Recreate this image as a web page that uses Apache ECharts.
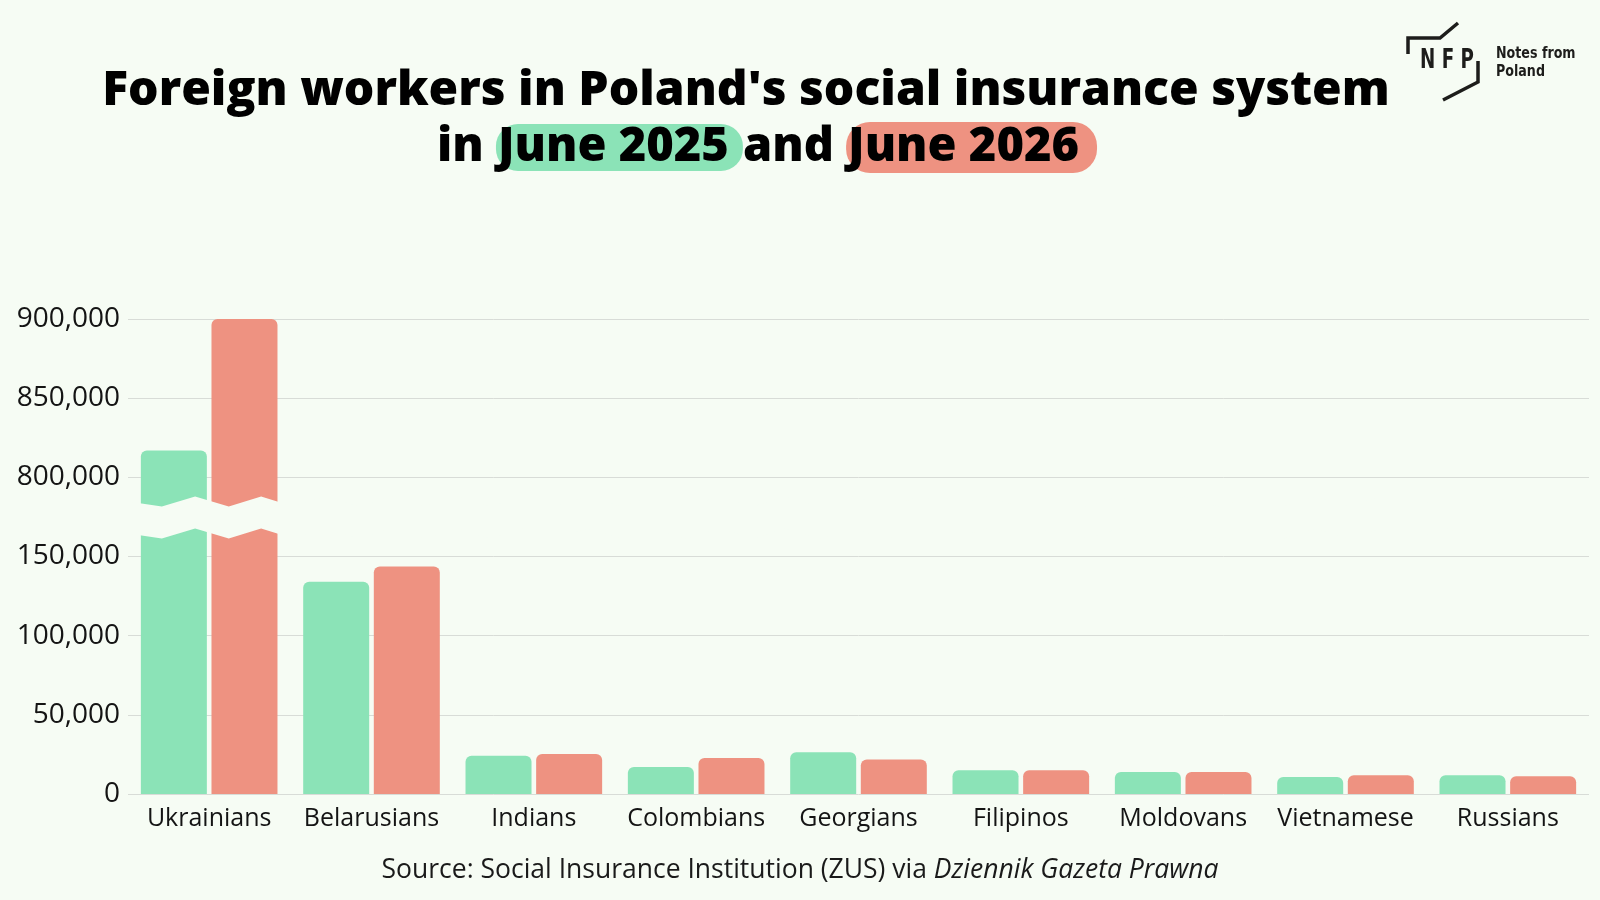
<!DOCTYPE html>
<html>
<head>
    <meta charset="utf-8">
    <title>Foreign workers in Poland's social insurance system</title>
    <script src="https://cdn.jsdelivr.net/npm/echarts@6.0.0/dist/echarts.min.js"></script>
    <style>
        html, body { margin: 0; padding: 0; background: #f6fcf4; }
        #chart { width: 1600px; height: 900px; }
    </style>
</head>
<body>
<div id="chart"></div>
<script>
    // values
    var categories = ['Ukrainians', 'Belarusians', 'Indians', 'Colombians', 'Georgians',
        'Filipinos', 'Moldovans', 'Vietnamese', 'Russians'];
    var june2025 = [817000, 134000, 24100, 17100, 26400, 15000, 13900, 10800, 11800];
    var june2026 = [900000, 143700, 25300, 22800, 21800, 15000, 13900, 11800, 11200];
    var yTicks = [0, 50000, 100000, 150000, 800000, 850000, 900000];
    var axisBreak = { start: 165000, end: 785000, gap: 20000 };

    var bg = '#f6fcf4';
    var green = '#8be3b7';
    var red = '#ee9281';
    var ink = '#141414';
    var logoFont = '"Liberation Sans Narrow", "DejaVu Sans Condensed", sans-serif';

    var myChart = echarts.init(document.getElementById('chart'));
    var option = {
        backgroundColor: bg,
        animation: false,
        textStyle: { fontFamily: 'Open Sans' },
        title: [{
            text: "Foreign workers in Poland's social insurance system",
            left: 741,
            top: 62,
            textAlign: 'center',
            textStyle: { fontFamily: 'Open Sans', fontWeight: 800, fontSize: 48, color: '#000' }
        }, {
            text: 'in {g|June 2025}and {r|June 2026}',
            left: 762,
            top: 117,
            textAlign: 'center',
            textStyle: {
                fontFamily: 'Open Sans', fontWeight: 800, fontSize: 47, color: '#000',
                rich: {
                    g: {
                        fontFamily: 'Open Sans', fontWeight: 800, fontSize: 47, color: '#000',
                        backgroundColor: green, borderRadius: 22, padding: [0, 14, 0, 2]
                    },
                    r: {
                        fontFamily: 'Open Sans', fontWeight: 800, fontSize: 47, color: '#000',
                        backgroundColor: red, borderRadius: 24, padding: [2, 18, 2, 2]
                    }
                }
            }
        }],
        grid: { left: 128, right: 11, top: 319, bottom: 106, containLabel: false },
        xAxis: {
            type: 'category',
            data: categories,
            axisLine: { show: false },
            axisTick: { show: false },
            axisLabel: { fontFamily: 'Open Sans', fontSize: 25, color: ink, margin: 12, interval: 0 }
        },
        yAxis: {
            type: 'value',
            min: 0,
            max: 900000,
            interval: 50000,
            breaks: [axisBreak],
            breakArea: {
                show: true,
                itemStyle: { color: bg, borderColor: bg, borderWidth: 0, opacity: 1 },
                zigzagAmplitude: 5,
                zigzagMinSpan: 32,
                zigzagMaxSpan: 34,
                expandOnClick: false
            },
            axisLine: { show: false },
            axisTick: { show: false, customValues: yTicks },
            splitLine: { lineStyle: { color: '#d8dcd7', width: 1 }, customValues: yTicks },
            axisLabel: {
                customValues: yTicks,
                fontFamily: 'Open Sans', fontSize: 28, color: ink, margin: 8,
                formatter: function (v) { return v.toLocaleString('en-US'); }
            }
        },
        series: [{
            name: 'June 2025',
            type: 'bar',
            data: june2025,
            barWidth: 66,
            barGap: '7%',
            itemStyle: { color: green, borderRadius: [6, 6, 0, 0] }
        }, {
            name: 'June 2026',
            type: 'bar',
            data: june2026,
            barWidth: 66,
            itemStyle: { color: red, borderRadius: [6, 6, 0, 0] }
        }],
        graphic: [
            // NFP logo
            {
                type: 'polyline',
                shape: { points: [[1408, 54], [1408, 38], [1440, 38], [1458, 23]] },
                style: { stroke: '#1d1d1b', lineWidth: 3.5, fill: null }
            },
            {
                type: 'polyline',
                shape: { points: [[1478, 61], [1478, 82], [1443, 100]] },
                style: { stroke: '#1d1d1b', lineWidth: 3.5, fill: null }
            },
            {
                type: 'text',
                x: 1447, y: 61,
                style: {
                    text: 'N F P', fill: '#1d1d1b', align: 'center', verticalAlign: 'middle',
                    font: 'bold 26px ' + logoFont
                },
                scaleX: 0.78
            },
            {
                type: 'text',
                x: 1496, y: 54,
                scaleX: 0.88,
                style: {
                    text: 'Notes from', fill: '#1d1d1b', verticalAlign: 'middle',
                    font: 'bold 16px ' + logoFont
                }
            },
            {
                type: 'text',
                x: 1496, y: 72,
                scaleX: 0.88,
                style: {
                    text: 'Poland', fill: '#1d1d1b', verticalAlign: 'middle',
                    font: 'bold 16px ' + logoFont
                }
            },
            // source line
            {
                type: 'text',
                x: 800, y: 870,
                style: {
                    text: 'Source: Social Insurance Institution (ZUS) via {i|Dziennik Gazeta Prawna}',
                    fill: '#1a1a1a', align: 'center', verticalAlign: 'middle',
                    fontFamily: 'Open Sans', fontSize: 26.5,
                    rich: { i: { fontFamily: 'Open Sans', fontSize: 26.5, fontStyle: 'italic', fill: '#1a1a1a' } }
                }
            }
        ]
    };
    myChart.setOption(option);
</script>
</body>
</html>
